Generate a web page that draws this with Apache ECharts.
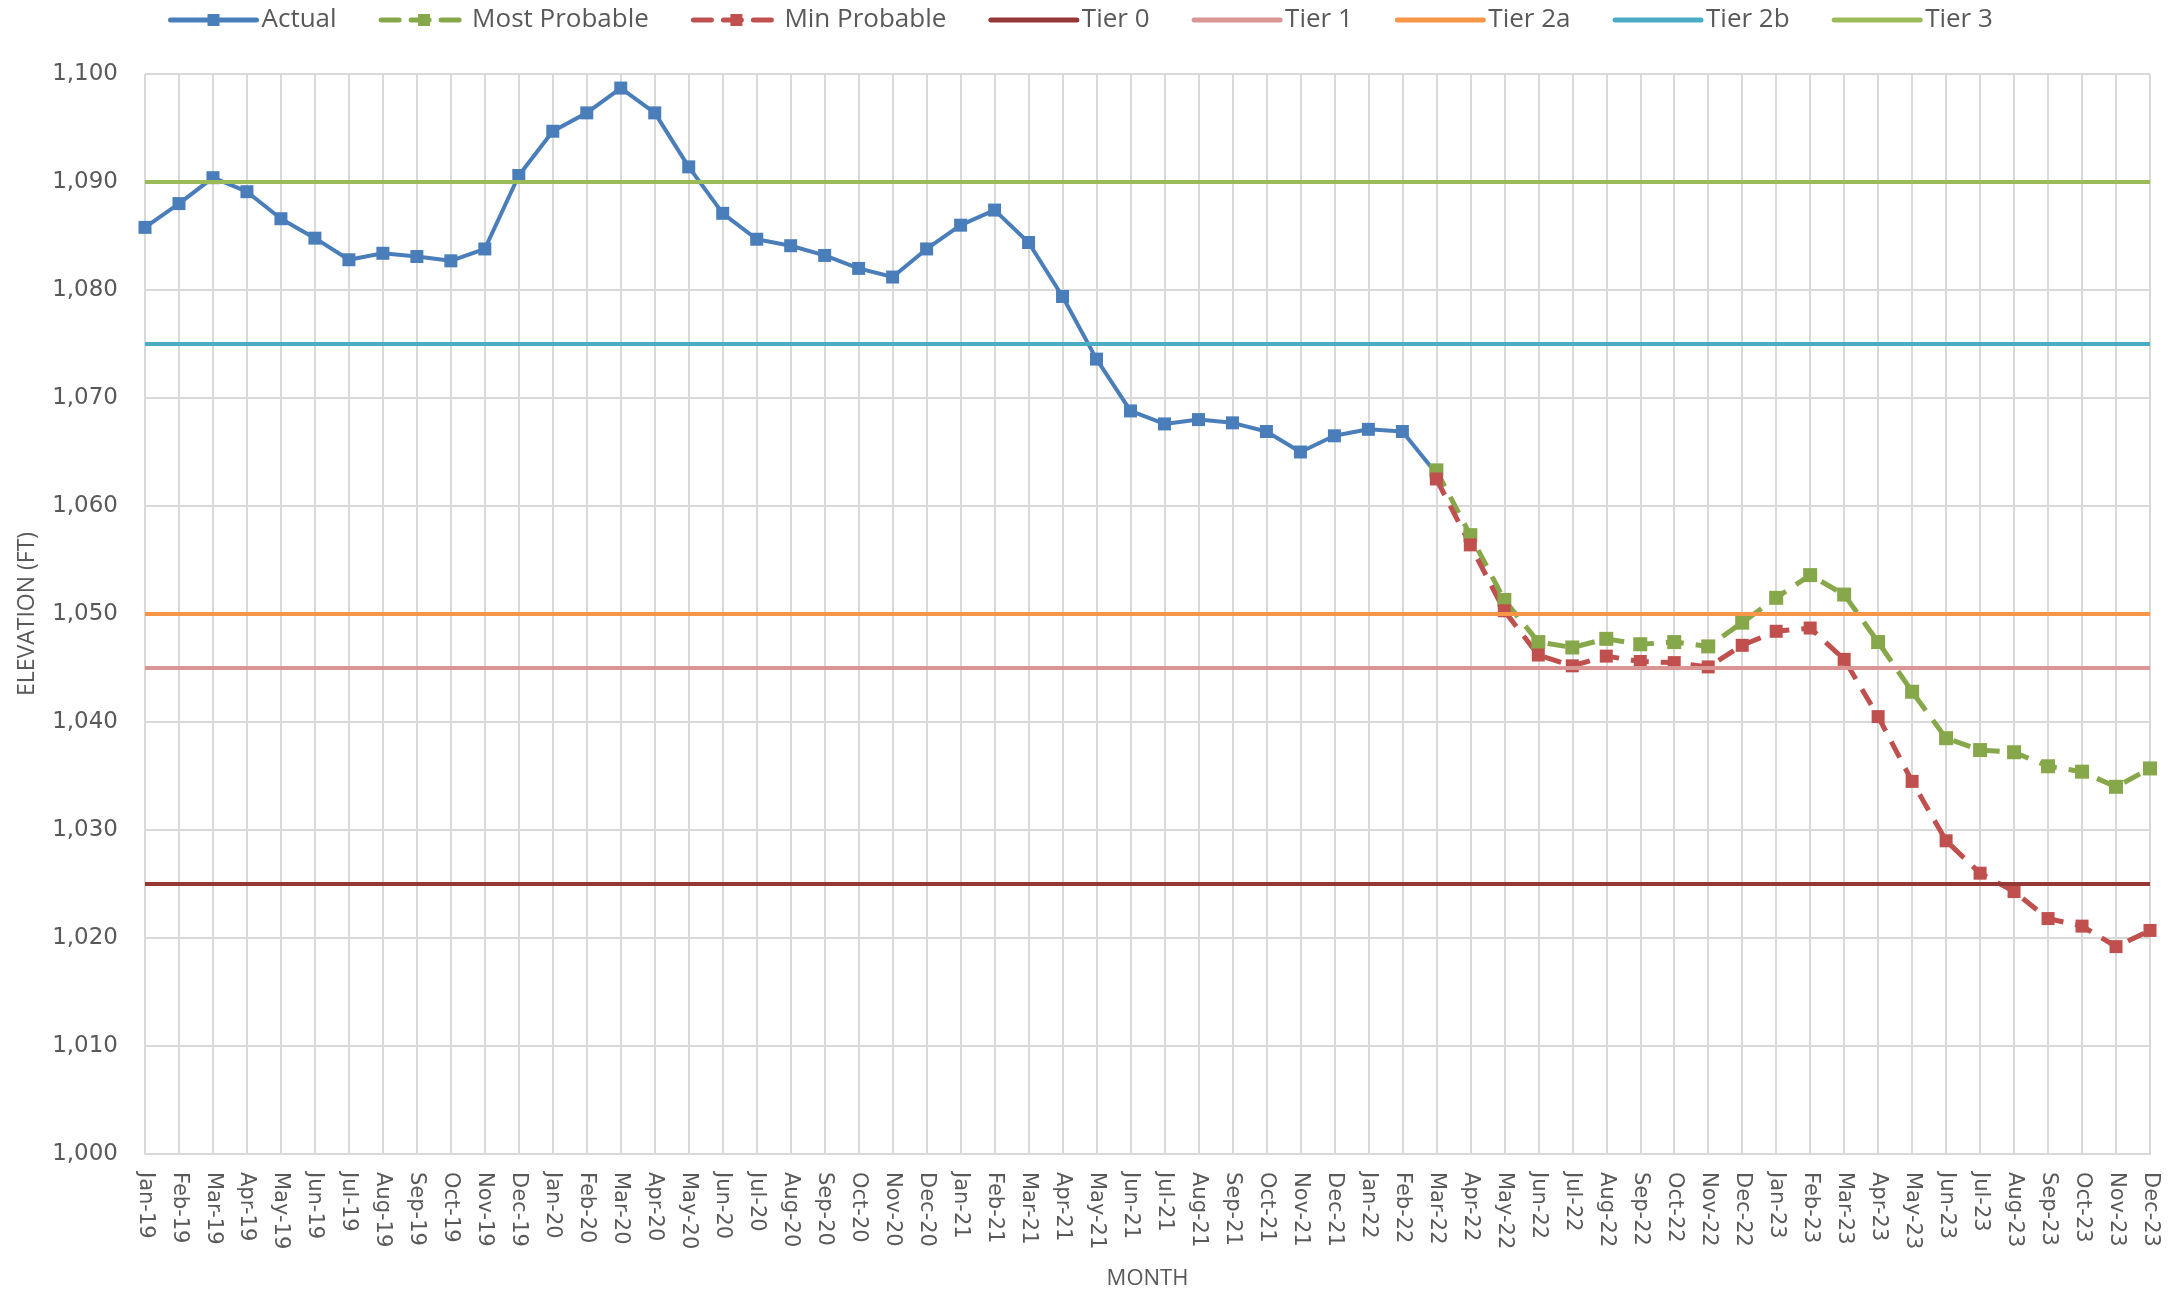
<!DOCTYPE html>
<html>
<head>
<meta charset="utf-8">
<title>Elevation</title>
<script src="https://cdn.jsdelivr.net/npm/echarts@6/dist/echarts.min.js"></script>
<style>
  html, body { margin: 0; padding: 0; background: #fff; }
  #chart { width: 2182px; height: 1292px; }
</style>
</head>
<body>
<div id="chart"></div>
<script>
const months = [
  'Jan-19', 'Feb-19', 'Mar-19', 'Apr-19', 'May-19', 'Jun-19', 'Jul-19', 'Aug-19', 'Sep-19', 'Oct-19', 'Nov-19', 'Dec-19',
  'Jan-20', 'Feb-20', 'Mar-20', 'Apr-20', 'May-20', 'Jun-20', 'Jul-20', 'Aug-20', 'Sep-20', 'Oct-20', 'Nov-20', 'Dec-20',
  'Jan-21', 'Feb-21', 'Mar-21', 'Apr-21', 'May-21', 'Jun-21', 'Jul-21', 'Aug-21', 'Sep-21', 'Oct-21', 'Nov-21', 'Dec-21',
  'Jan-22', 'Feb-22', 'Mar-22', 'Apr-22', 'May-22', 'Jun-22', 'Jul-22', 'Aug-22', 'Sep-22', 'Oct-22', 'Nov-22', 'Dec-22',
  'Jan-23', 'Feb-23', 'Mar-23', 'Apr-23', 'May-23', 'Jun-23', 'Jul-23', 'Aug-23', 'Sep-23', 'Oct-23', 'Nov-23', 'Dec-23'
];

// Jan-19 .. Mar-22
const actual = [
  1085.8, 1088.0, 1090.4, 1089.1, 1086.6, 1084.8, 1082.8, 1083.4, 1083.1, 1082.7, 1083.8, 1090.6,
  1094.7, 1096.4, 1098.7, 1096.4, 1091.4, 1087.1, 1084.7, 1084.1, 1083.2, 1082.0, 1081.2, 1083.8,
  1086.0, 1087.4, 1084.4, 1079.4, 1073.6, 1068.8, 1067.6, 1068.0, 1067.7, 1066.9, 1065.0, 1066.5,
  1067.1, 1066.9, 1063.0
];

// Mar-22 .. Dec-23
const mostProbable = [
  1063.3, 1057.3, 1051.3, 1047.4, 1046.9, 1047.7, 1047.2, 1047.4, 1047.0, 1049.2,
  1051.5, 1053.6, 1051.8, 1047.4, 1042.8, 1038.5, 1037.4, 1037.2, 1035.9, 1035.4, 1034.0, 1035.7
];
const minProbable = [
  1062.5, 1056.4, 1050.3, 1046.2, 1045.2, 1046.1, 1045.6, 1045.5, 1045.1, 1047.1,
  1048.4, 1048.7, 1045.8, 1040.5, 1034.5, 1029.0, 1026.0, 1024.3, 1021.8, 1021.1, 1019.2, 1020.7
];
const forecastStart = 'Mar-22';

const tierNames = ['Tier 0', 'Tier 1', 'Tier 2a', 'Tier 2b', 'Tier 3'];
const tierValues = [1025, 1045, 1050, 1075, 1090];
const tierColors = ['#953735', '#D99694', '#F79646', '#4BACC6', '#9BBB59'];

const yTicks = { min: 1000, max: 1100, step: 10 };

// pad the short series out to the full month axis
const startIdx = months.indexOf(forecastStart);
function alignForecast(vals) {
  const out = months.map(() => null);
  vals.forEach((v, i) => { out[startIdx + i] = v; });
  return out;
}
const actualData = months.map((m, i) => (i < actual.length ? actual[i] : null));

const textColor = '#595959';
const gridColor = '#D9D9D9';
const dash = [18, 12];

const chart = echarts.init(document.getElementById('chart'));

const tierSeries = tierNames.map((name, i) => ({
  name: name,
  type: 'line',
  data: [],
  symbol: 'none',
  z: 1,
  itemStyle: { color: tierColors[i] },
  lineStyle: { color: tierColors[i], width: 5 },
  markLine: {
    silent: true,
    symbol: 'none',
    label: { show: false },
    lineStyle: { color: tierColors[i], width: 4, type: 'solid' },
    data: [{ yAxis: tierValues[i] }]
  }
}));

// legend entries: tiers show only a plain line, no marker
const legendData = [
  { name: 'Actual' },
  { name: 'Most Probable', lineStyle: { type: dash } },
  { name: 'Min Probable', lineStyle: { type: dash } }
].concat(tierNames.map(n => ({
  name: n,
  itemStyle: { color: 'rgba(0,0,0,0)', borderWidth: 0 }
})));

chart.setOption({
  animation: false,
  backgroundColor: '#fff',
  textStyle: { fontFamily: 'Open Sans', color: textColor },
  legend: {
    left: 163,
    top: 2,
    itemWidth: 86,
    itemHeight: 15,
    itemGap: 42,
    lineStyle: { width: 5, cap: 'round' },
    textStyle: { fontFamily: 'Open Sans', fontSize: 26, color: textColor },
    data: legendData
  },
  grid: { left: 145, right: 32, top: 74, bottom: 138, outerBoundsMode: 'none' },
  xAxis: {
    type: 'category',
    data: months,
    boundaryGap: false,
    name: 'MONTH',
    nameLocation: 'middle',
    nameGap: 114,
    nameTextStyle: { fontFamily: 'Open Sans', fontSize: 22, color: textColor },
    axisLine: { lineStyle: { color: gridColor, width: 2 } },
    axisTick: { show: false },
    axisLabel: {
      interval: 0,
      rotate: -90,
      margin: 18,
      fontFamily: 'DejaVu Sans',
      fontSize: 21,
      color: textColor
    },
    splitLine: { show: true, interval: 0, lineStyle: { color: gridColor, width: 2 } }
  },
  yAxis: {
    type: 'value',
    min: yTicks.min,
    max: yTicks.max,
    interval: yTicks.step,
    name: 'ELEVATION (FT)',
    nameLocation: 'middle',
    nameRotate: 90,
    nameGap: 106,
    nameTextStyle: { fontFamily: 'Open Sans', fontSize: 23, color: textColor },
    axisLine: { show: false },
    axisTick: { show: false },
    axisLabel: {
      margin: 27,
      fontFamily: 'DejaVu Sans',
      fontSize: 23,
      color: textColor,
      formatter: v => v.toLocaleString('en-US')
    },
    splitLine: { lineStyle: { color: gridColor, width: 2 } }
  },
  series: tierSeries.concat([
    {
      name: 'Actual',
      type: 'line',
      data: actualData,
      z: 3,
      symbol: 'rect',
      symbolSize: 13,
      itemStyle: { color: '#4A7EBB' },
      lineStyle: { color: '#4A7EBB', width: 4 }
    },
    {
      name: 'Most Probable',
      type: 'line',
      data: alignForecast(mostProbable),
      z: 3,
      symbol: 'rect',
      symbolSize: 14,
      itemStyle: { color: '#86A84A' },
      lineStyle: { color: '#86A84A', width: 5, type: dash }
    },
    {
      name: 'Min Probable',
      type: 'line',
      data: alignForecast(minProbable),
      z: 3,
      symbol: 'rect',
      symbolSize: 13,
      itemStyle: { color: '#C0504D' },
      lineStyle: { color: '#C0504D', width: 5, type: dash }
    }
  ])
});
</script>
</body>
</html>
